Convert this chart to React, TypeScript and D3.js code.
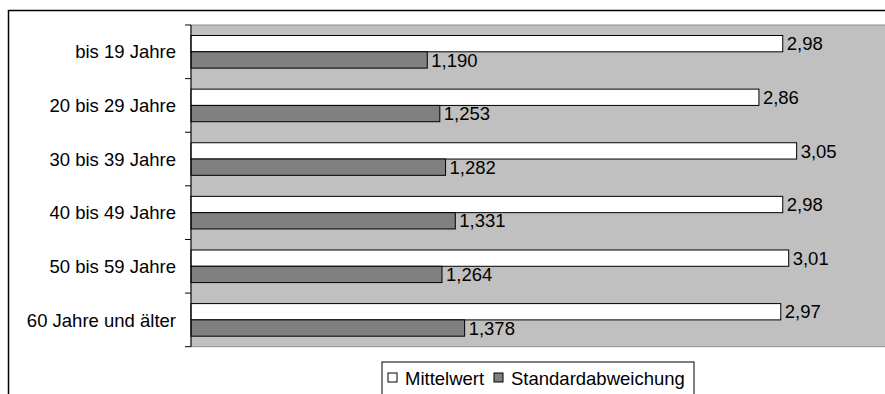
import React from 'react';
import * as d3 from 'd3';

const categories = ['bis 19 Jahre', '20 bis 29 Jahre', '30 bis 39 Jahre', '40 bis 49 Jahre', '50 bis 59 Jahre', '60 Jahre und älter'];
const seriesNames = ['Mittelwert', 'Standardabweichung'];
const mittelwert = [2.98, 2.86, 3.05, 2.98, 3.01, 2.97];
const standardabweichung = [1.19, 1.253, 1.282, 1.331, 1.264, 1.378];
const decimals = [2, 3];
const colors = ['#FFFFFF', '#808080'];

const W = 885, H = 394;
const plot = { left: 191, top: 25, right: 886, bottom: 346.7 };
const FONT = 'Liberation Sans, Arial, sans-serif';
const FS = 18.5;

export default function App() {
  const x = d3.scaleLinear().domain([0, 3.5]).range([plot.left, plot.right]);
  const y0 = d3.scaleBand<string>().domain(categories).range([plot.top, plot.bottom]).padding(0);
  const band = y0.bandwidth();
  const barH = band / 3.29;
  const gap = band - 2 * barH;
  const y1 = d3.scaleBand<string>().domain(seriesNames).range([gap / 2, band - gap / 2]).padding(0);
  const values = [mittelwert, standardabweichung];
  const fmt = (v: number, d: number) => v.toFixed(d).replace('.', ',');
  const tickYs = categories.map(c => y0(c)!).concat([plot.bottom]);

  return (
    <svg width={W} height={H} style={{ position: 'absolute', left: 0, top: 0 }} fontFamily={FONT}>
      <rect x={0} y={0} width={W} height={H} fill="#fff" />
      <rect x={8.5} y={10.5} width={W + 20} height={H + 20} fill="#fff" stroke="#000" strokeWidth={1.5} />
      <rect x={plot.left} y={plot.top} width={plot.right - plot.left} height={plot.bottom - plot.top} fill="#C0C0C0" stroke="#909090" strokeWidth={1} />
      {categories.map((c, i) => (
        <g key={c}>
          {seriesNames.map((s, j) => {
            const v = values[j][i];
            const yy = y0(c)! + y1(s)!;
            return (
              <g key={s}>
                <rect x={x(0)} y={yy} width={x(v) - x(0)} height={y1.bandwidth()} fill={colors[j]} stroke="#000" strokeWidth={1} />
                <text x={x(v) + 4} y={yy + y1.bandwidth() / 2} dy="0.36em" fontSize={FS} fill="#000">{fmt(v, decimals[j])}</text>
              </g>
            );
          })}
          <text x={176} y={y0(c)! + band / 2} dy="0.36em" textAnchor="end" fontSize={FS} fill="#000">{c}</text>
        </g>
      ))}
      <line x1={plot.left} x2={plot.left} y1={plot.top} y2={plot.bottom} stroke="#000" strokeWidth={1} />
      {tickYs.map((t, i) => (
        <line key={i} x1={185} x2={plot.left} y1={t} y2={t} stroke="#000" strokeWidth={1} />
      ))}
      <g>
        <rect x={382} y={362} width={312} height={60} fill="#fff" stroke="#000" strokeWidth={1} />
        <rect x={388} y={373} width={9} height={9} fill={colors[0]} stroke="#000" strokeWidth={1} />
        <text x={405} y={378} dy="0.36em" fontSize={FS} fill="#000">{seriesNames[0]}</text>
        <rect x={494} y={373} width={9} height={9} fill={colors[1]} stroke="#000" strokeWidth={1} />
        <text x={511} y={378} dy="0.36em" fontSize={FS} fill="#000">{seriesNames[1]}</text>
      </g>
    </svg>
  );
}
